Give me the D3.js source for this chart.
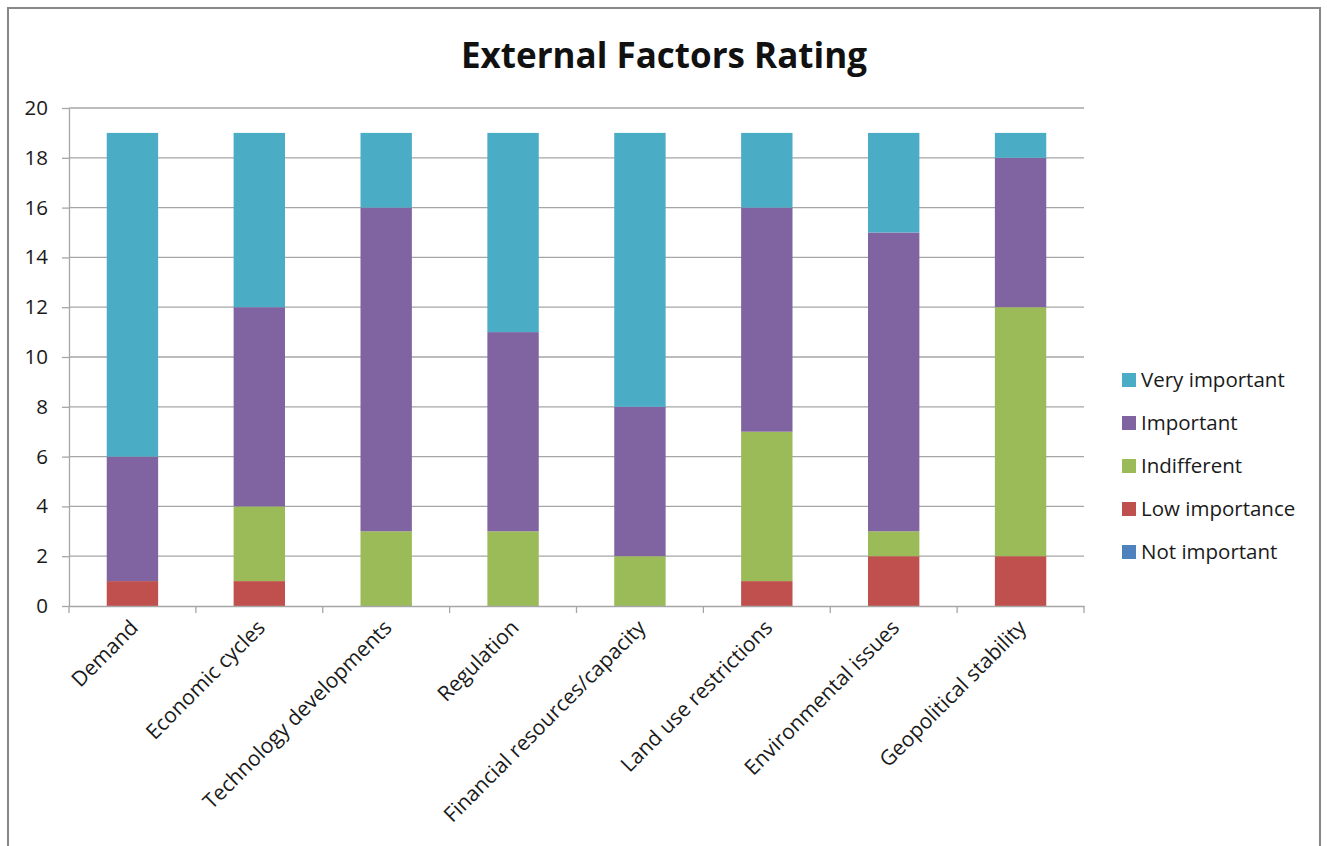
<!DOCTYPE html>
<html><head><meta charset="utf-8">
<script src="https://cdn.jsdelivr.net/npm/d3@7"></script>
<style>body{margin:0;background:#fff}</style>
</head><body>
<svg id="c" width="1327" height="846"></svg>
<script>
const categories = ["Demand","Economic cycles","Technology developments","Regulation","Financial resources/capacity","Land use restrictions","Environmental issues","Geopolitical stability"];
const seriesNames = ["Not important","Low importance","Indifferent","Important","Very important"];
const notImportant = [0,0,0,0,0,0,0,0];
const lowImportance = [1,1,0,0,0,1,2,2];
const indifferent = [0,3,3,3,2,6,1,10];
const important = [5,8,13,8,6,9,12,6];
const veryImportant = [13,7,3,8,11,3,4,1];
const yTicks = [0,2,4,6,8,10,12,14,16,18,20];
const colors = ["#4F81BD","#C0504D","#9BBB59","#8064A2","#4BACC6"];
const title = "External Factors Rating";

const seriesVals = [notImportant, lowImportance, indifferent, important, veryImportant];
const rows = categories.map((c,i)=>{const o={cat:c}; seriesNames.forEach((s,j)=>o[s]=seriesVals[j][i]); return o;});
const stack = d3.stack().keys(seriesNames)(rows);

const svg = d3.select("#c");
const font = "'Open Sans', sans-serif";
svg.append("rect").attr("x",8).attr("y",8).attr("width",1312).attr("height",860)
  .attr("fill","#fff").attr("stroke","#878787").attr("stroke-width",2);

const L=69, R=1084, T=108, B=606;
const x = d3.scaleBand().domain(categories).range([L,R]).paddingInner(0.595).paddingOuter(0.2975);
const xb = d3.scaleBand().domain(categories).range([L,R]);
const y = d3.scaleLinear().domain([0,20]).range([B,T]);

// gridlines
svg.append("g").selectAll("line").data(yTicks.filter(t=>t>0)).join("line")
  .attr("x1",L).attr("x2",R).attr("y1",d=>y(d)).attr("y2",d=>y(d))
  .attr("stroke","#a6a6a6").attr("stroke-width",1.3);

// bars
svg.append("g").selectAll("g").data(stack).join("g").attr("fill",(d,i)=>colors[i])
  .selectAll("rect").data(d=>d).join("rect")
  .attr("x",d=>x(d.data.cat)).attr("width",x.bandwidth())
  .attr("y",d=>y(d[1])).attr("height",d=>y(d[0])-y(d[1]));

// y axis
const ya = svg.append("g").attr("transform",`translate(${L},0)`)
  .call(d3.axisLeft(y).tickValues(yTicks).tickSize(7).tickPadding(14).tickSizeOuter(0));
ya.select(".domain").attr("stroke","#a6a6a6").attr("stroke-width",1.3);
ya.selectAll(".tick line").attr("stroke","#a6a6a6").attr("stroke-width",1.3);
ya.selectAll("text").attr("font-family",font).attr("font-size",20.5).attr("fill","#1a1a1a");

// x axis
const xa = svg.append("g").attr("transform",`translate(0,${B})`)
  .call(d3.axisBottom(xb).tickSize(0).tickFormat(""));
xa.select(".domain").attr("stroke","#a6a6a6").attr("stroke-width",1.3);
svg.append("g").selectAll("line").data(categories.concat(["_end"])).join("line")
  .attr("x1",(d,i)=>L+i*xb.bandwidth()).attr("x2",(d,i)=>L+i*xb.bandwidth())
  .attr("y1",B).attr("y2",B+7).attr("stroke","#a6a6a6").attr("stroke-width",1.3);
svg.append("g").selectAll("text").data(categories).join("text")
  .attr("transform",d=>`translate(${xb(d)+xb.bandwidth()/2+7},${B+23}) rotate(-45)`)
  .attr("text-anchor","end").attr("font-family",font).attr("font-size",21).attr("fill","#1a1a1a")
  .text(d=>d);

// title
svg.append("text").attr("x",664).attr("y",68).attr("text-anchor","middle")
  .attr("font-family",font).attr("font-weight","bold").attr("font-size",35).attr("fill","#111").text(title);

// legend
const legOrder = seriesNames.map((s,i)=>({s,c:colors[i]})).reverse();
const lg = svg.append("g").selectAll("g").data(legOrder).join("g")
  .attr("transform",(d,i)=>`translate(1122,${380+i*43})`);
lg.append("rect").attr("x",0).attr("y",-7).attr("width",14).attr("height",14).attr("fill",d=>d.c);
lg.append("text").attr("x",19).attr("y",0).attr("dy","0.35em").attr("font-family",font)
  .attr("font-size",20.5).attr("fill","#1a1a1a").text(d=>d.s);
</script>
</body></html>
